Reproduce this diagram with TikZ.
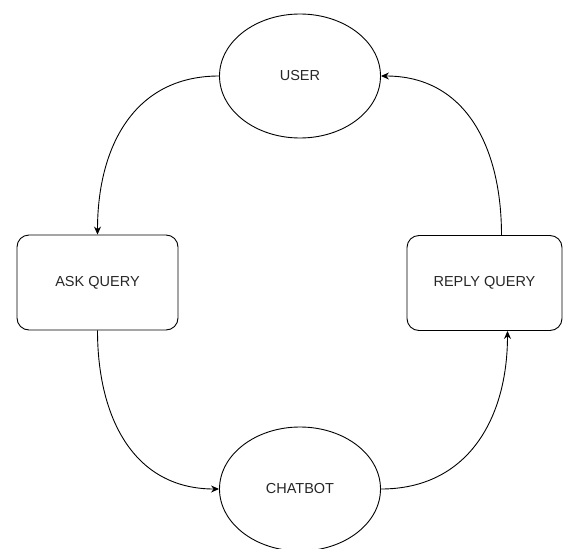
\documentclass[tikz,border=0pt]{standalone}
\usepackage{fontspec}
\setmainfont{Liberation Sans}
\usetikzlibrary{shapes.geometric,arrows.meta}
\begin{document}
\begin{tikzpicture}[x=1pt,y=-1pt,
  oval/.style={draw, ellipse, minimum width=161pt, minimum height=124pt, line width=0.9pt, font=\fontsize{14.5}{16}\selectfont, text=black!85},
  rbox/.style={draw, rounded corners=12pt, minimum height=95pt, line width=0.9pt, font=\fontsize{14.5}{16}\selectfont, text=black!85},
  conn/.style={line width=0.9pt, -{Stealth[length=8pt,width=7pt]}}]
\useasboundingbox (0,0) rectangle (563,549);
\node[oval] (user) at (300,76) {USER};
\node[rbox, minimum width=161pt] (ask) at (97.5,282.5) {ASK QUERY};
\node[rbox, minimum width=155pt] (reply) at (484.5,283) {REPLY QUERY};
\node[oval] (bot) at (300,489) {CHATBOT};
\draw[conn] (user.west) to[out=180,in=90,looseness=1.1] (ask.north);
\draw[conn] (ask.south) to[out=270,in=180,looseness=1.1] (bot.west);
\draw[conn] (bot.east) to[out=0,in=270,looseness=1.1] ([xshift=23pt]reply.south);
\draw[conn] ([xshift=17pt]reply.north) to[out=90,in=0,looseness=1.1] (user.east);
\end{tikzpicture}
\end{document}
